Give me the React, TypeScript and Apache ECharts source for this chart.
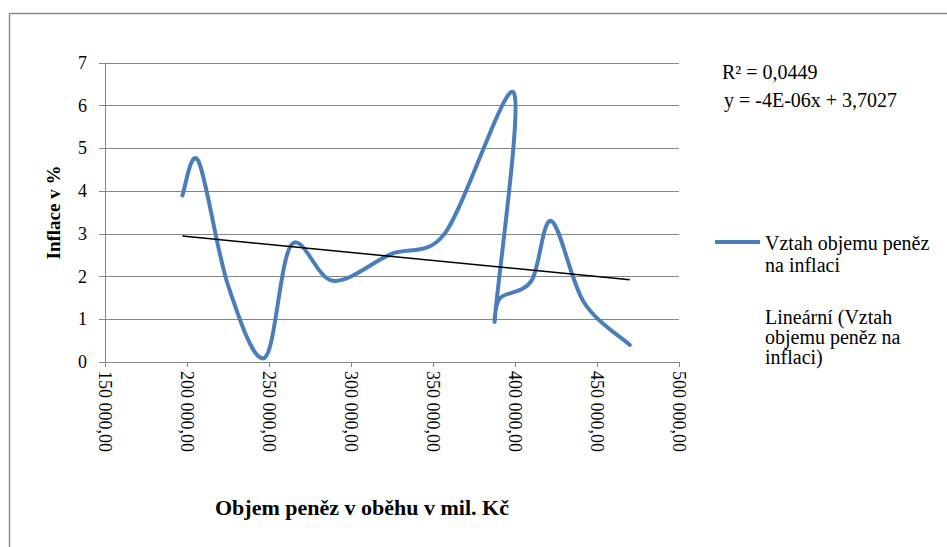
import React, { useEffect, useRef } from "react";
import * as echarts from "echarts";

// Objem peněz v oběhu (mil. Kč) a inflace (%)
const volume = [197200, 207000, 225000, 247400, 263800, 289000, 324000, 357000, 399300, 387700, 391000, 410000, 422200, 442000, 470000];
const inflation = [3.9, 4.7, 1.8, 0.1, 2.75, 1.9, 2.52, 3.0, 6.3, 1.0, 1.5, 1.9, 3.3, 1.4, 0.4];

const xTicks = { min: 150000, max: 500000, interval: 50000 };
const yTicks = { min: 0, max: 7, interval: 1 };

const seriesName = "Vztah objemu peněz na inflaci";
const trendName = "Lineární (Vztah objemu peněz na inflaci)";
const r2Label = "R² = 0,0449";
const eqLabel = "y = -4E-06x + 3,7027";
const xTitle = "Objem peněz v oběhu v mil. Kč";
const yTitle = "Inflace v %";

const FONT = '"Liberation Serif", "Times New Roman", serif';
const BLUE = "#4a7ebb";

function fmtCz(v: number): string {
  const s = Math.round(v).toString().replace(/\B(?=(\d{3})+(?!\d))/g, " ");
  return s + ",00";
}

function regression(xs: number[], ys: number[]) {
  const n = xs.length;
  const mx = xs.reduce((a, b) => a + b, 0) / n;
  const my = ys.reduce((a, b) => a + b, 0) / n;
  let sxy = 0, sxx = 0;
  for (let i = 0; i < n; i++) {
    sxy += (xs[i] - mx) * (ys[i] - my);
    sxx += (xs[i] - mx) * (xs[i] - mx);
  }
  const b = sxy / sxx;
  return { a: my - b * mx, b };
}

const dist = (p: number[], q: number[]) => Math.hypot(q[0] - p[0], q[1] - p[1]);

export default function App() {
  const ref = useRef<HTMLDivElement>(null);
  useEffect(() => {
    if (!ref.current) return;
    const chart = echarts.init(ref.current, undefined, { renderer: "svg" });
    const { a, b } = regression(volume, inflation);
    const xmin = Math.min(...volume);
    const xmax = Math.max(...volume);
    const mainData = volume.map((x, i) => [x, inflation[i]]);
    const trendData = [[xmin, a + b * xmin], [xmax, a + b * xmax]];

    // Spreadsheet-style smoothed scatter line through every data point
    const renderSmooth = (params: any, api: any) => {
      if (params.dataIndex !== 0) return null;
      const pts = mainData.map((p) => api.coord(p));
      const n = pts.length;
      let d = `M${pts[0][0]},${pts[0][1]}`;
      for (let i = 0; i < n - 1; i++) {
        const p0 = pts[i - 1] || pts[i];
        const p1 = pts[i];
        const p2 = pts[i + 1];
        const p3 = pts[i + 2] || pts[i + 1];
        const d12 = dist(p1, p2);
        const d02 = dist(p0, p2);
        const d13 = dist(p1, p3);
        let f0 = 1 / 6;
        let f1 = 1 / 6;
        if (d02 > 0 && d02 / 6 >= d12 / 2) f0 = d12 / d02 / 2;
        if (d13 > 0 && d13 / 6 >= d12 / 2) f1 = d12 / d13 / 2;
        const c1x = p1[0] + (p2[0] - p0[0]) * f0;
        const c1y = p1[1] + (p2[1] - p0[1]) * f0;
        const c2x = p2[0] - (p3[0] - p1[0]) * f1;
        const c2y = p2[1] - (p3[1] - p1[1]) * f1;
        d += ` C${c1x},${c1y} ${c2x},${c2y} ${p2[0]},${p2[1]}`;
      }
      return {
        type: "path",
        shape: { pathData: d },
        style: { fill: "none", stroke: BLUE, lineWidth: 4, lineJoin: "round", lineCap: "round" },
      };
    };

    chart.setOption({
      animation: false,
      backgroundColor: "#ffffff",
      textStyle: { fontFamily: FONT },
      grid: { left: 105, right: 268, top: 63, bottom: 185, containLabel: false },
      xAxis: {
        type: "value",
        min: xTicks.min,
        max: xTicks.max,
        interval: xTicks.interval,
        axisLine: { show: true, onZero: true, lineStyle: { color: "#868686", width: 1 } },
        axisTick: { show: true, inside: false, length: 5, lineStyle: { color: "#868686" } },
        splitLine: { show: false },
        axisLabel: {
          rotate: -90,
          margin: 9,
          color: "#000",
          fontFamily: FONT,
          fontSize: 18,
          formatter: (v: number) => fmtCz(v),
        },
      },
      yAxis: {
        type: "value",
        min: yTicks.min,
        max: yTicks.max,
        interval: yTicks.interval,
        name: yTitle,
        nameLocation: "middle",
        nameGap: 42,
        nameTextStyle: { fontFamily: FONT, fontSize: 19, fontWeight: "bold", color: "#000" },
        axisLine: { show: true, lineStyle: { color: "#868686", width: 1 } },
        axisTick: { show: true, inside: false, length: 6, lineStyle: { color: "#868686" } },
        splitLine: { show: true, lineStyle: { color: "#868686", width: 1 } },
        axisLabel: { margin: 18, color: "#000", fontFamily: FONT, fontSize: 18 },
      },
      series: [
        {
          name: seriesName,
          type: "custom",
          data: mainData,
          renderItem: renderSmooth,
          encode: { x: 0, y: 1 },
          z: 3,
        },
        {
          name: trendName,
          type: "line",
          data: trendData,
          symbol: "none",
          lineStyle: { color: "#000000", width: 1.5 },
          z: 4,
        },
      ],
      graphic: [
        {
          type: "rect",
          silent: true,
          z: -10,
          shape: { x: 9.5, y: 13.5, width: 1000, height: 1000 },
          style: { fill: "none", stroke: "#8a8a8a", lineWidth: 1.5 },
        },
        {
          type: "text",
          x: 722,
          y: 72,
          style: { text: r2Label, fontFamily: FONT, fontSize: 20, fill: "#000", verticalAlign: "middle" },
        },
        {
          type: "text",
          x: 724,
          y: 100,
          style: { text: eqLabel, fontFamily: FONT, fontSize: 20, fill: "#000", verticalAlign: "middle" },
        },
        {
          type: "line",
          shape: { x1: 715, y1: 242, x2: 760, y2: 242 },
          style: { stroke: BLUE, lineWidth: 4 },
        },
        {
          type: "text",
          x: 765,
          y: 232,
          style: {
            text: "Vztah objemu peněz\nna inflaci",
            fontFamily: FONT,
            fontSize: 20,
            lineHeight: 22,
            fill: "#000",
            verticalAlign: "top",
          },
        },
        {
          type: "text",
          x: 765,
          y: 307,
          style: {
            text: "Lineární (Vztah\nobjemu peněz na\ninflaci)",
            fontFamily: FONT,
            fontSize: 20,
            lineHeight: 20,
            fill: "#000",
            verticalAlign: "top",
          },
        },
        {
          type: "text",
          x: 215,
          y: 507,
          style: {
            text: xTitle,
            fontFamily: FONT,
            fontSize: 22,
            fontWeight: "bold",
            fill: "#000",
            verticalAlign: "middle",
          },
        },
      ],
    });
    return () => chart.dispose();
  }, []);
  return (
    <div
      ref={ref}
      style={{ position: "fixed", left: 0, top: 0, width: 947, height: 547, background: "#fff" }}
    />
  );
}
